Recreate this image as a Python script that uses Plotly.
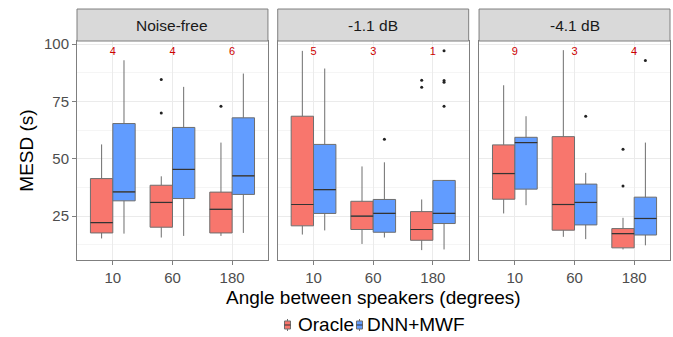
import plotly.graph_objects as go

panels = ["Noise-free", "-1.1 dB", "-4.1 dB"]
angles = ["10", "60", "180"]
methods = ["Oracle", "DNN+MWF"]
colors = {"Oracle": "#F8766D", "DNN+MWF": "#619CFF"}

# per panel, per method: lists over angles [10, 60, 180]
oracle_low = [[15.3, 15.7, 16.4], [17.0, 12.9, 10.2], [26.2, 16.0, 10.5]]
oracle_q1 = [[17.7, 20.2, 17.7], [20.8, 19.2, 14.5], [32.4, 18.9, 11.2]]
oracle_med = [[22.2, 31.0, 28.0], [30.1, 25.0, 19.2], [43.6, 30.1, 17.4]]
oracle_q3 = [[41.4, 38.5, 35.5], [68.6, 31.5, 27.0], [56.1, 59.7, 19.6]]
oracle_up = [[56.3, 42.4, 57.1], [97.1, 46.7, 32.3], [82.1, 97.4, 24.3]]

dnn_low = [[17.4, 16.4, 17.7], [18.8, 15.7, 10.5], [29.8, 15.0, 12.3]]
dnn_q1 = [[31.7, 32.7, 34.5], [26.2, 18.0, 21.8], [36.8, 21.2, 16.8]]
dnn_med = [[35.6, 45.4, 42.6], [36.6, 26.2, 26.2], [57.1, 31.0, 24.0]]
dnn_q3 = [[65.4, 63.7, 67.9], [56.3, 32.3, 40.6], [59.4, 39.0, 33.3]]
dnn_up = [[93.0, 81.4, 87.2], [89.4, 48.5, 40.6], [68.6, 43.9, 57.1]]

# outliers: (angle index, value)
oracle_out = [
    [(1, 84.6), (1, 70.0), (2, 73.0)],
    [(2, 84.3), (2, 81.2)],
    [(2, 38.2), (2, 54.2)],
]
dnn_out = [
    [],
    [(1, 58.6), (2, 97.1), (2, 84.2), (2, 83.4), (2, 73.0)],
    [(1, 68.6), (2, 92.9)],
]

counts = [["4", "4", "6"], ["5", "3", "1"], ["9", "3", "4"]]
count_y = 96.5

stats = {
    "Oracle": (oracle_low, oracle_q1, oracle_med, oracle_q3, oracle_up, oracle_out),
    "DNN+MWF": (dnn_low, dnn_q1, dnn_med, dnn_q3, dnn_up, dnn_out),
}

FONT = "Liberation Sans"
fig = go.Figure()
dodge = {"Oracle": -0.1875, "DNN+MWF": 0.1875}
bw = 0.375
base_x = [1, 2, 3]

for p in range(3):
    xa = "x" if p == 0 else f"x{p+1}"
    ya = "y" if p == 0 else f"y{p+1}"
    for m in methods:
        low, q1, med, q3, up, outs_all = stats[m]
        outs = outs_all[p]
        xs = [b + dodge[m] for b in base_x]
        fig.add_trace(go.Box(
            x=xs, q1=q1[p], median=med[p], q3=q3[p],
            lowerfence=low[p], upperfence=up[p],
            width=bw, whiskerwidth=0, fillcolor=colors[m],
            line=dict(color="#6E6E6E", width=1),
            name=m, legendgroup=m, showlegend=False,
            xaxis=xa, yaxis=ya, boxpoints=False,
        ))
        # darker median lines
        mx, my = [], []
        for i in range(3):
            mx += [xs[i] - bw / 2, xs[i] + bw / 2, None]
            my += [med[p][i], med[p][i], None]
        fig.add_trace(go.Scatter(x=mx, y=my, mode="lines",
                                 line=dict(color="#333333", width=1.2),
                                 showlegend=False, hoverinfo="skip",
                                 xaxis=xa, yaxis=ya))
        if outs:
            fig.add_trace(go.Scatter(
                x=[base_x[i] + dodge[m] for i, v in outs],
                y=[v for i, v in outs], mode="markers",
                marker=dict(color="#222222", size=3),
                showlegend=False, hoverinfo="skip", xaxis=xa, yaxis=ya))
    fig.add_trace(go.Scatter(
        x=base_x, y=[count_y] * 3, mode="text", text=counts[p],
        textfont=dict(color="#CC0000", size=11, family=FONT),
        showlegend=False, hoverinfo="skip", xaxis=xa, yaxis=ya))

domains = [(0.0, 0.322), (0.3385, 0.6605), (0.678, 1.0)]
yr = [5.9, 101.4]
for p in range(3):
    sfx = "" if p == 0 else str(p + 1)
    fig.layout["xaxis" + sfx] = dict(
        domain=domains[p], range=[0.4, 3.6], tickvals=base_x, ticktext=angles,
        showline=True, mirror=True, linecolor="#7F7F7F", linewidth=1,
        showgrid=True, gridcolor="#EBEBEB", gridwidth=1, zeroline=False,
        ticks="outside", ticklen=4, tickcolor="#7F7F7F",
        tickfont=dict(size=15, color="#4D4D4D", family=FONT),
        anchor="y" + sfx, fixedrange=True, automargin=False)
    fig.layout["yaxis" + sfx] = dict(
        range=yr, tickvals=[25, 50, 75, 100],
        showticklabels=(p == 0),
        showline=True, mirror=True, linecolor="#7F7F7F", linewidth=1,
        showgrid=True, gridcolor="#EBEBEB", gridwidth=1, zeroline=False,
        ticks="outside" if p == 0 else "", ticklen=4, tickcolor="#7F7F7F",
        tickfont=dict(size=15, color="#4D4D4D", family=FONT),
        minor=dict(tickvals=[12.5, 37.5, 62.5, 87.5], showgrid=True,
                   gridcolor="#F5F5F5", gridwidth=1),
        anchor="x" + sfx, fixedrange=True, automargin=False)
    if p == 0:
        fig.layout["yaxis"].title = dict(text="MESD (s)", standoff=5,
                                         font=dict(size=19, color="black", family=FONT))
    # strip
    fig.add_shape(type="rect", xref="paper", yref="paper",
                  x0=domains[p][0], x1=domains[p][1], y0=1.0, y1=1.146,
                  fillcolor="#D9D9D9", line=dict(color="#7F7F7F", width=1))
    fig.add_annotation(xref="paper", yref="paper",
                       x=(domains[p][0] + domains[p][1]) / 2, y=1.073,
                       text=panels[p], showarrow=False,
                       font=dict(size=15.5, color="#1A1A1A", family=FONT),
                       xanchor="center", yanchor="middle")

fig.add_annotation(xref="paper", yref="paper", x=0.5, y=-0.1735,
                   text="Angle between speakers (degrees)", showarrow=False,
                   font=dict(size=19, color="black", family=FONT),
                   xanchor="center", yanchor="middle")

# compact ggplot-style legend (keys + labels)
leg_key_x = [(0.3499, 0.3600), (0.4713, 0.4815)]
leg_text_x = [0.3700, 0.4860]
ky0, ky1, wy0, wy1, ly = -0.3151, -0.2785, -0.3242, -0.2694, -0.2968
for j, m in enumerate(methods):
    x0, x1 = leg_key_x[j]
    xc = (x0 + x1) / 2
    fig.add_shape(type="line", xref="paper", yref="paper", x0=xc, x1=xc,
                  y0=wy0, y1=wy1, line=dict(color="#6E6E6E", width=1))
    fig.add_shape(type="rect", xref="paper", yref="paper", x0=x0, x1=x1,
                  y0=ky0, y1=ky1, fillcolor=colors[m],
                  line=dict(color="#6E6E6E", width=1))
    fig.add_shape(type="line", xref="paper", yref="paper", x0=x0, x1=x1,
                  y0=ly, y1=ly, line=dict(color="#333333", width=1))
    fig.add_annotation(xref="paper", yref="paper", x=leg_text_x[j], y=ly,
                       text=m, showarrow=False, xanchor="left", yanchor="middle",
                       font=dict(size=19, color="black", family=FONT))

fig.update_layout(
    width=673, height=337,
    margin=dict(l=77, r=3, t=41, b=77),
    plot_bgcolor="white", paper_bgcolor="white",
    boxmode="overlay",
    showlegend=False,
)

fig.write_html("out.html", config={"displayModeBar": False},
               post_script="document.body.style.margin='0';document.body.style.padding='0';document.body.style.overflow='hidden';")
